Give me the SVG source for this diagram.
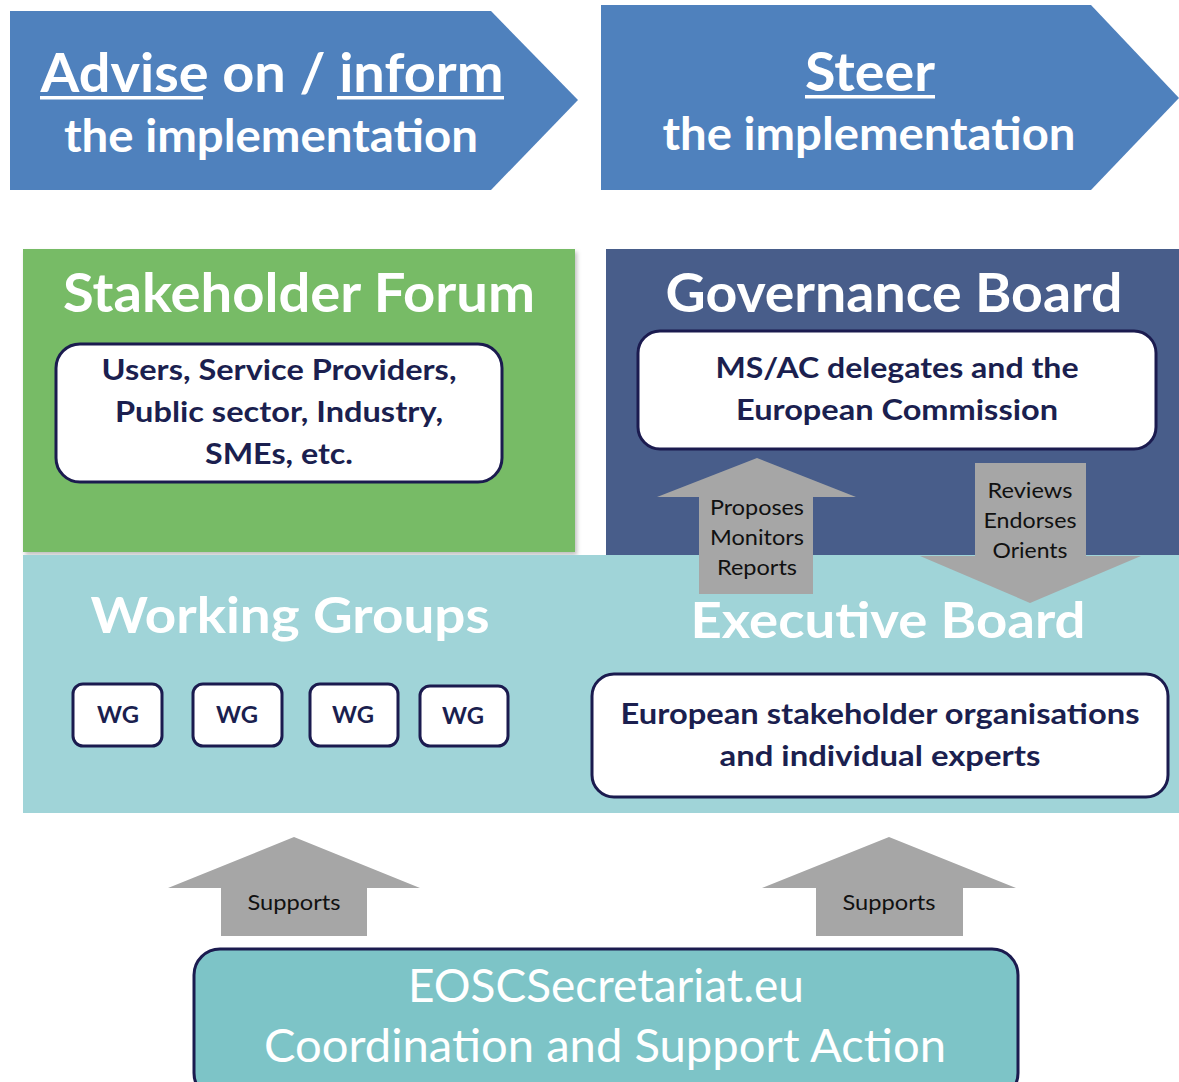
<svg xmlns="http://www.w3.org/2000/svg" width="1179" height="1082" viewBox="0 0 1179 1082">
<defs>
<style>
text{font-family:Lato,"Open Sans","Liberation Sans",sans-serif;font-weight:bold;text-anchor:middle}
.chev{fill:#4F81BD}
.hw{fill:#FFFFFF}
.inner{fill:#FFFFFF;stroke:#1B1B4F;stroke-width:3}
.nv{fill:#1B1F4F}
.arr{fill:#A6A6A6}
.at{fill:#111111;font-weight:normal}
.reg{font-weight:normal}
.ul{fill:#FFFFFF}
</style>
<filter id="sh" x="-5%" y="-5%" width="110%" height="110%">
<feDropShadow dx="2" dy="3" stdDeviation="2" flood-color="#000" flood-opacity="0.25"/>
</filter>
</defs>
<rect width="1179" height="1082" fill="#FFFFFF"/>

<g id="advise">
<polygon class="chev" points="10,11 491,11 578,100 491,190 10,190"/>
<text class="hw" x="272" y="92" font-size="54" textLength="463" lengthAdjust="spacingAndGlyphs">Advise on / inform</text>
<rect class="ul" x="40" y="96" width="163" height="3.5"/>
<rect class="ul" x="337" y="96" width="167" height="3.5"/>
<text class="hw" x="271" y="152" font-size="46" textLength="414" lengthAdjust="spacingAndGlyphs">the implementation</text>
</g>

<g id="steer">
<polygon class="chev" points="601,5 1091,5 1179,98 1091,190 601,190"/>
<text class="hw" x="870" y="91" font-size="54" textLength="130" lengthAdjust="spacingAndGlyphs">Steer</text>
<rect class="ul" x="805" y="95" width="130" height="3.5"/>
<text class="hw" x="869" y="150" font-size="46" textLength="413" lengthAdjust="spacingAndGlyphs">the implementation</text>
</g>

<g id="stakeholder-forum">
<rect x="23" y="249" width="552" height="303" fill="#77BB66" filter="url(#sh)"/>
<text class="hw" x="299" y="312" font-size="54" textLength="472" lengthAdjust="spacingAndGlyphs">Stakeholder Forum</text>
<rect class="inner" x="56" y="344" width="446" height="138" rx="24"/>
<text class="nv" x="279" y="380" font-size="29" textLength="355" lengthAdjust="spacingAndGlyphs">Users, Service Providers,</text>
<text class="nv" x="279" y="422" font-size="29" textLength="328" lengthAdjust="spacingAndGlyphs">Public sector, Industry,</text>
<text class="nv" x="279" y="464" font-size="29" textLength="148" lengthAdjust="spacingAndGlyphs">SMEs, etc.</text>
</g>

<g id="governance-board">
<rect x="606" y="249" width="573" height="308" fill="#485D8A"/>
<text class="hw" x="894" y="312" font-size="54" textLength="457" lengthAdjust="spacingAndGlyphs">Governance Board</text>
<rect class="inner" x="638" y="331" width="518" height="118" rx="22"/>
<text class="nv" x="897" y="378" font-size="29" textLength="363" lengthAdjust="spacingAndGlyphs">MS/AC delegates and the</text>
<text class="nv" x="897" y="420" font-size="29" textLength="322" lengthAdjust="spacingAndGlyphs">European Commission</text>
</g>

<g id="lower-band">
<rect x="23" y="555" width="1156" height="258" fill="#A0D4D8"/>
</g>

<g id="working-groups">
<text class="hw" x="290" y="633" font-size="50" textLength="399" lengthAdjust="spacingAndGlyphs">Working Groups</text>
</g>
<g id="wg1"><rect class="inner" x="73" y="684" width="89" height="62" rx="10"/><text class="nv" x="118" y="723" font-size="22" textLength="42" lengthAdjust="spacingAndGlyphs">WG</text></g>
<g id="wg2"><rect class="inner" x="193" y="684" width="89" height="62" rx="10"/><text class="nv" x="237" y="723" font-size="22" textLength="42" lengthAdjust="spacingAndGlyphs">WG</text></g>
<g id="wg3"><rect class="inner" x="310" y="684" width="88" height="62" rx="10"/><text class="nv" x="353" y="723" font-size="22" textLength="42" lengthAdjust="spacingAndGlyphs">WG</text></g>
<g id="wg4"><rect class="inner" x="420" y="686" width="88" height="60" rx="10"/><text class="nv" x="463" y="724" font-size="22" textLength="42" lengthAdjust="spacingAndGlyphs">WG</text></g>

<g id="executive-board">
<text class="hw" x="888" y="638" font-size="50" textLength="395" lengthAdjust="spacingAndGlyphs">Executive Board</text>
<rect class="inner" x="592" y="674" width="576" height="123" rx="22"/>
<text class="nv" x="880" y="724" font-size="29" textLength="519" lengthAdjust="spacingAndGlyphs">European stakeholder organisations</text>
<text class="nv" x="880" y="766" font-size="29" textLength="321" lengthAdjust="spacingAndGlyphs">and individual experts</text>
</g>

<g id="secretariat">
<rect x="194" y="949" width="824" height="150" rx="26" fill="#7DC4C7" stroke="#1B1B4F" stroke-width="3"/>
<text class="hw reg" x="606" y="1002" font-size="46" textLength="396" lengthAdjust="spacingAndGlyphs">EOSCSecretariat.eu</text>
<text class="hw reg" x="605" y="1062" font-size="46" textLength="682" lengthAdjust="spacingAndGlyphs">Coordination and Support Action</text>
</g>

<g id="connectors">
<g id="proposes">
<polygon class="arr" points="757,458 856,497 813,497 813,594 699,594 699,497 657,497"/>
<text class="at" x="757" y="515" font-size="22" textLength="94" lengthAdjust="spacingAndGlyphs">Proposes</text>
<text class="at" x="757" y="545" font-size="22" textLength="94" lengthAdjust="spacingAndGlyphs">Monitors</text>
<text class="at" x="757" y="575" font-size="22" textLength="80" lengthAdjust="spacingAndGlyphs">Reports</text>
</g>
<g id="reviews">
<polygon class="arr" points="975,463 1086,463 1086,556 1141,556 1030,603 920,556 975,556"/>
<text class="at" x="1030" y="498" font-size="22" textLength="85" lengthAdjust="spacingAndGlyphs">Reviews</text>
<text class="at" x="1030" y="528" font-size="22" textLength="93" lengthAdjust="spacingAndGlyphs">Endorses</text>
<text class="at" x="1030" y="558" font-size="22" textLength="75" lengthAdjust="spacingAndGlyphs">Orients</text>
</g>
<g id="supports-left">
<polygon class="arr" points="294,837 420,888 367,888 367,936 221,936 221,888 168,888"/>
<text class="at" x="294" y="910" font-size="22" textLength="93" lengthAdjust="spacingAndGlyphs">Supports</text>
</g>
<g id="supports-right">
<polygon class="arr" points="889,837 1016,888 963,888 963,936 816,936 816,888 762,888"/>
<text class="at" x="889" y="910" font-size="22" textLength="93" lengthAdjust="spacingAndGlyphs">Supports</text>
</g>
</g>
</svg>
